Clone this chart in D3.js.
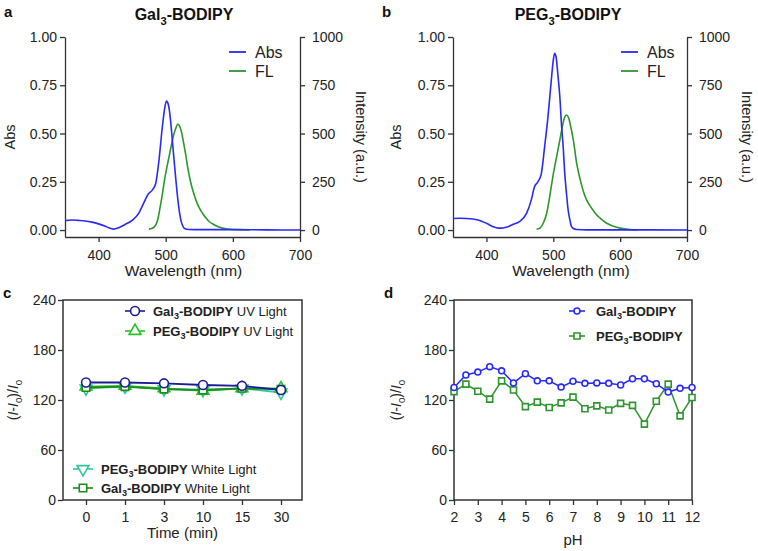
<!DOCTYPE html>
<html>
<head>
<meta charset="utf-8">
<script src="https://cdn.jsdelivr.net/npm/d3@7"></script>
<style>
    body { margin: 0; background: #fff; }
    svg { display: block; font-family: "Liberation Sans", Arial, sans-serif; }
    .axis path, .axis line { stroke: #333; stroke-width: 1.3; }
    .axis text { font-size: 14px; fill: #222; font-family: "Liberation Sans", Arial, sans-serif; }
</style>
</head>
<body>
<svg id="chart" width="758" height="551"></svg>
<script>
// ---- data ----
const wavelengthTicks = [400, 500, 600, 700];
const absTicks = [0, 0.25, 0.5, 0.75, 1];
const intensityTicks = [0, 250, 500, 750, 1000];
const ratioTicks = [0, 60, 120, 180, 240];
const phTicks = [2, 3, 4, 5, 6, 7, 8, 9, 10, 11, 12];

// panel a, Gal3-BODIPY
const absWavelengthA = [350, 360, 370, 380, 390, 400, 410, 415, 422, 430, 440, 450, 460, 467, 474, 480, 485, 490, 495, 498, 501, 503, 505, 508, 510, 513, 515, 518, 520, 523, 525, 528, 535, 550, 600, 650, 700];
const absValuesA = [0.049, 0.052, 0.050, 0.047, 0.041, 0.032, 0.020, 0.012, 0.005, 0.012, 0.030, 0.050, 0.088, 0.138, 0.187, 0.207, 0.240, 0.363, 0.535, 0.620, 0.668, 0.660, 0.630, 0.540, 0.460, 0.340, 0.265, 0.160, 0.105, 0.045, 0.025, 0.008, 0.003, 0.002, 0.002, 0.001, 0.000];
const flWavelengthA = [475, 480, 485, 488, 492, 495, 498, 502, 505, 510, 515, 518, 520, 523, 527, 530, 533, 537, 540, 545, 550, 555, 560, 565, 570, 580, 590, 600, 610, 625];
const flValuesA = [5, 9, 25, 52, 125, 185, 255, 330, 380, 466, 527, 549, 542, 515, 445, 385, 320, 250, 210, 155, 115, 86, 62, 43, 32, 14, 7, 3, 2, 1];

// panel b, PEG3-BODIPY
const absWavelengthB = [350, 360, 370, 380, 390, 400, 410, 418, 425, 432, 440, 450, 460, 467, 472, 477, 482, 487, 492, 497, 500, 502, 504, 507, 510, 512, 515, 517, 520, 522, 525, 527, 530, 535, 550, 600, 700];
const absValuesB = [0.060, 0.061, 0.060, 0.057, 0.050, 0.035, 0.017, 0.010, 0.011, 0.017, 0.030, 0.045, 0.086, 0.155, 0.225, 0.250, 0.290, 0.430, 0.585, 0.775, 0.880, 0.915, 0.900, 0.800, 0.680, 0.560, 0.420, 0.300, 0.180, 0.110, 0.050, 0.020, 0.008, 0.003, 0.001, 0.001, 0.000];
const flWavelengthB = [475, 480, 485, 490, 494, 497, 500, 505, 510, 513, 517, 520, 523, 527, 530, 535, 540, 545, 550, 555, 560, 565, 570, 580, 590, 600, 615, 625];
const flValuesB = [4, 10, 35, 86, 160, 225, 290, 380, 470, 525, 585, 596, 580, 520, 466, 345, 265, 200, 155, 125, 100, 78, 62, 35, 20, 10, 3, 1];

// panel c, light stability
const timeLabels = ['0', '1', '3', '10', '15', '30'];
const galUV = [141, 141, 140, 138, 137, 132];
const pegUV = [136, 137, 134, 131, 134, 134];
const pegWhite = [134, 136, 133, 132, 134, 129];
const galWhite = [135, 136, 133, 132, 134, 133];

// panel d, pH stability
const phValues = [2, 2.5, 3, 3.5, 4, 4.5, 5, 5.5, 6, 6.5, 7, 7.5, 8, 8.5, 9, 9.5, 10, 10.5, 11, 11.5, 12];
const galPH = [135, 150, 153.5, 160, 155, 140.5, 151.5, 143, 143, 135.5, 142.5, 140, 140.5, 140, 138, 145.5, 145.5, 139.5, 129.5, 134, 135];
const pegPH = [130, 139, 130.5, 121, 143, 132, 112, 117.5, 111, 116.5, 123.5, 109.5, 113, 108, 116, 113.5, 91, 118.5, 139, 101, 123];

const BLUE = '#2a2af5';
const GREEN = '#2e962e';

// text with sub / italic pieces
function richText (sel, parts, size) {
    parts.forEach(function (p, i) {
        var t = sel.append('tspan').text(p.t);
        if (p.sub) {
            t.attr('font-size', size * 0.7).attr('dy', size * 0.3);
        } else if (i > 0 && parts[i - 1].sub) {
            t.attr('dy', -size * 0.3);
        }
        if (p.i) t.attr('font-style', 'italic');
        if (p.b) t.attr('font-weight', 'bold');
    });
    return sel;
}

function galName (bold) { return [{t: 'Gal', b: bold}, {t: '3', sub: true, b: bold}, {t: '-BODIPY', b: bold}]; }
function pegName (bold) { return [{t: 'PEG', b: bold}, {t: '3', sub: true, b: bold}, {t: '-BODIPY', b: bold}]; }

// Absorbance / fluorescence panel
class SpectrumChart {
    constructor (_parentElement, cfg) {
        this.parentElement = _parentElement;
        this.cfg = cfg;
        this.initViz();
    };

    initViz () {
        var viz = this;
        var c = viz.cfg;

        viz.g = d3.select(viz.parentElement).append('g');

        viz.xScale = d3.scaleLinear().domain([350, 700]).range([c.left, c.right]);
        viz.yScale = d3.scaleLinear().domain([-0.036, 1]).range([237, 37]);
        viz.y2Scale = d3.scaleLinear().domain([-36, 1000]).range([237, 37]);

        viz.g.append('g').attr('class', 'axis')
            .attr('transform', 'translate(0,237)')
            .call(d3.axisBottom(viz.xScale).tickValues(wavelengthTicks).tickSize(5).tickSizeOuter(0).tickPadding(8));
        viz.g.append('g').attr('class', 'axis')
            .attr('transform', `translate(${c.left},0)`)
            .call(d3.axisLeft(viz.yScale).tickValues(absTicks).tickFormat(d3.format('.2f')).tickSize(5).tickSizeOuter(0).tickPadding(3));
        viz.g.append('g').attr('class', 'axis')
            .attr('transform', `translate(${c.right},0)`)
            .call(d3.axisRight(viz.y2Scale).tickValues(intensityTicks).tickFormat(d3.format('d')).tickSize(5).tickSizeOuter(0).tickPadding(7));

        var line = d3.line().curve(d3.curveMonotoneX);

        viz.g.append('path')
            .attr('d', line(c.flX.map((x, i) => [viz.xScale(x), viz.y2Scale(c.flY[i])])))
            .attr('fill', 'none').attr('stroke', GREEN).attr('stroke-width', 1.6);
        viz.g.append('path')
            .attr('d', line(c.absX.map((x, i) => [viz.xScale(x), viz.yScale(c.absY[i])])))
            .attr('fill', 'none').attr('stroke', BLUE).attr('stroke-width', 1.6);

        // labels
        viz.g.append('text').attr('x', c.letterX).attr('y', 17)
            .attr('font-size', 15).attr('font-weight', 'bold').attr('fill', '#111').text(c.letter);
        richText(viz.g.append('text').attr('x', c.titleX).attr('y', 20)
            .attr('font-size', 16).attr('text-anchor', 'middle').attr('fill', '#111'), c.title, 16);
        viz.g.append('text').attr('x', (c.left + c.right) / 2 + 1).attr('y', 276)
            .attr('font-size', 15.5).attr('text-anchor', 'middle').attr('fill', '#222').text('Wavelength (nm)');
        viz.g.append('text').attr('transform', `translate(${c.yLabelX},137) rotate(-90)`)
            .attr('font-size', 14.5).attr('text-anchor', 'middle').attr('fill', '#222').text('Abs');
        viz.g.append('text').attr('transform', `translate(${c.y2LabelX},137) rotate(90)`)
            .attr('font-size', 14.5).attr('text-anchor', 'middle').attr('fill', '#222').text('Intensity (a.u.)');

        // legend
        [['Abs', BLUE, 52], ['FL', GREEN, 71]].forEach(function (d) {
            viz.g.append('line').attr('x1', c.legendX).attr('x2', c.legendX + 17)
                .attr('y1', d[2]).attr('y2', d[2]).attr('stroke', d[1]).attr('stroke-width', 1.8);
            viz.g.append('text').attr('x', c.legendX + 26).attr('y', d[2] + 5.5)
                .attr('font-size', 16).attr('fill', '#222').text(d[0]);
        });
    };
}

// marker drawing shared by panels c and d
function drawMarker (g, shape, x, y, color, size) {
    var types = {circle: d3.symbolCircle, square: d3.symbolSquare, triangle: d3.symbolTriangle, down: d3.symbolTriangle};
    g.append('path')
        .attr('d', d3.symbol().type(types[shape]).size(size)())
        .attr('transform', `translate(${x},${y})` + (shape === 'down' ? ' rotate(180)' : ''))
        .attr('fill', '#fff').attr('stroke', color).attr('stroke-width', 1.6);
}

// (I-I0)/I0 panel
class RatioChart {
    constructor (_parentElement, cfg) {
        this.parentElement = _parentElement;
        this.cfg = cfg;
        this.initViz();
    };

    initViz () {
        var viz = this;
        var c = viz.cfg;

        viz.g = d3.select(viz.parentElement).append('g');
        viz.xScale = c.xScale;
        viz.yScale = d3.scaleLinear().domain([0, 240]).range([500, 300]);

        var xAxis = viz.g.append('g').attr('class', 'axis')
            .attr('transform', 'translate(0,500)')
            .call(c.xAxis.scale(viz.xScale).tickSize(5).tickPadding(7));
        var yAxis = viz.g.append('g').attr('class', 'axis')
            .attr('transform', `translate(${c.left},0)`)
            .call(d3.axisLeft(viz.yScale).tickValues(ratioTicks).tickSize(5).tickPadding(2));
        xAxis.select('.domain').remove();
        yAxis.select('.domain').remove();

        viz.g.append('rect')
            .attr('x', c.left).attr('y', 300).attr('width', c.right - c.left).attr('height', 200)
            .attr('fill', 'none').attr('stroke', '#333').attr('stroke-width', 1.5);

        var line = d3.line();
        c.series.forEach(function (s) {
            var pts = s.values.map((v, i) => [viz.xScale(c.xValues[i]), viz.yScale(v)]);
            viz.g.append('path').attr('d', line(pts))
                .attr('fill', 'none').attr('stroke', s.color).attr('stroke-width', c.lineWidth);
            pts.forEach(p => drawMarker(viz.g, s.shape, p[0], p[1], s.color, s.size));
        });

        // legend
        c.series.forEach(function (s) {
            viz.g.append('line').attr('x1', s.lx - c.legendHalf).attr('x2', s.lx + c.legendHalf)
                .attr('y1', s.ly).attr('y2', s.ly).attr('stroke', s.color).attr('stroke-width', 1.6);
            drawMarker(viz.g, s.shape, s.lx, s.ly, s.color, s.size);
            richText(viz.g.append('text').attr('x', s.lx + c.textGap).attr('y', s.ly + 4.5)
                .attr('font-size', 13).attr('fill', '#222'), s.label, 13);
        });

        viz.g.append('text').attr('x', c.letterX).attr('y', 298)
            .attr('font-size', 15).attr('font-weight', 'bold').attr('fill', '#111').text(c.letter);
        viz.g.append('text').attr('x', (c.left + c.right) / 2).attr('y', c.xLabelY)
            .attr('font-size', 15).attr('text-anchor', 'middle').attr('fill', '#222').text(c.xLabel);
        richText(viz.g.append('text').attr('transform', `translate(${c.yLabelX},400) rotate(-90)`)
            .attr('font-size', 14).attr('text-anchor', 'middle').attr('fill', '#222'),
            [{t: '('}, {t: 'I', i: true}, {t: '-'}, {t: 'I', i: true}, {t: '0', sub: true}, {t: ')/'}, {t: 'I', i: true}, {t: '0', sub: true}], 14);
    };
}

var svg = document.getElementById('chart');

new SpectrumChart(svg, {
    left: 65, right: 300, letter: 'a', letterX: 4, titleX: 184, title: galName(true),
    yLabelX: 15, y2LabelX: 356, legendX: 229,
    absX: absWavelengthA, absY: absValuesA, flX: flWavelengthA, flY: flValuesA
});
new SpectrumChart(svg, {
    left: 453, right: 687, letter: 'b', letterX: 382, titleX: 568, title: pegName(true),
    yLabelX: 401, y2LabelX: 742, legendX: 621,
    absX: absWavelengthB, absY: absValuesB, flX: flWavelengthB, flY: flValuesB
});

new RatioChart(svg, {
    left: 63, right: 302, letter: 'c', letterX: 3, yLabelX: 18,
    xScale: d3.scalePoint().domain(timeLabels).range([86, 281]),
    xAxis: d3.axisBottom(), xValues: timeLabels, xLabel: 'Time (min)', xLabelY: 538,
    lineWidth: 1.8, legendHalf: 10, textGap: 18,
    series: [
        {values: pegWhite, color: '#2fc79a', shape: 'down', size: 60, lx: 83, ly: 469,
            label: pegName(true).concat([{t: ' White Light'}])},
        {values: pegUV, color: '#22c422', shape: 'triangle', size: 60, lx: 135, ly: 331,
            label: pegName(true).concat([{t: ' UV Light'}])},
        {values: galWhite, color: '#1e8a1e', shape: 'square', size: 55, lx: 83, ly: 488,
            label: galName(true).concat([{t: ' White Light'}])},
        {values: galUV, color: '#1c1c96', shape: 'circle', size: 62, lx: 135, ly: 311,
            label: galName(true).concat([{t: ' UV Light'}])}
    ]
});

new RatioChart(svg, {
    left: 454, right: 692, letter: 'd', letterX: 384, yLabelX: 401,
    xScale: d3.scaleLinear().domain([2, 12]).range([454, 692]),
    xAxis: d3.axisBottom().tickValues(phTicks), xValues: phValues, xLabel: 'pH', xLabelY: 545,
    lineWidth: 1.5, legendHalf: 8, textGap: 19,
    series: [
        {values: pegPH, color: GREEN, shape: 'square', size: 36, lx: 577, ly: 336, label: pegName(true)},
        {values: galPH, color: BLUE, shape: 'circle', size: 28, lx: 577, ly: 311, label: galName(true)}
    ]
});
</script>
</body>
</html>
